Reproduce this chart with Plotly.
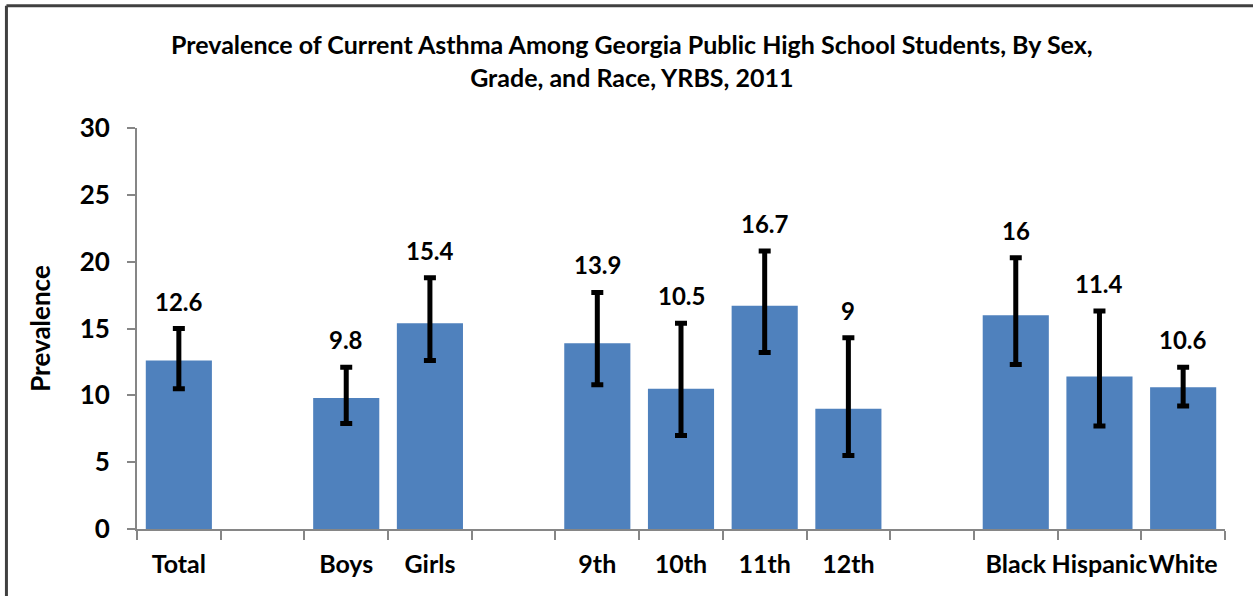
import plotly.graph_objects as go

BAR = "#4f81bd"
AXIS = "#868686"
FONT = "Lato"

# groups of categories, a blank slot sits between each group
GROUPS = [
    ["Total"],
    ["Boys", "Girls"],
    ["9th", "10th", "11th", "12th"],
    ["Black", "Hispanic", "White"],
]
LABELS = ["Total", "Boys", "Girls", "9th", "10th", "11th", "12th", "Black", "Hispanic", "White"]
VALUES = [12.6, 9.8, 15.4, 13.9, 10.5, 16.7, 9.0, 16.0, 11.4, 10.6]
LOWER = [10.5, 7.9, 12.6, 10.8, 7.0, 13.2, 5.5, 12.3, 7.7, 9.2]
UPPER = [15.0, 12.1, 18.8, 17.7, 15.4, 20.8, 14.3, 20.3, 16.3, 12.1]
VALUE_TEXT = ["12.6", "9.8", "15.4", "13.9", "10.5", "16.7", "9", "16", "11.4", "10.6"]
Y_TICKS = [0, 5, 10, 15, 20, 25, 30]

TITLE = ("Prevalence of Current Asthma Among Georgia Public High School Students, By Sex,"
         "<br>Grade, and Race, YRBS, 2011")

# slot positions with one empty slot between groups
positions = []
slot = 0
for i, grp in enumerate(GROUPS):
    if i > 0:
        slot += 1
    for _ in grp:
        positions.append(slot)
        slot += 1
n_slots = slot

fig = go.Figure()

fig.add_trace(go.Bar(
    x=positions, y=VALUES,
    marker=dict(color=BAR, line=dict(width=0)),
    width=0.79,
    error_y=dict(
        type="data", symmetric=False,
        array=[u - v for u, v in zip(UPPER, VALUES)],
        arrayminus=[v - l for v, l in zip(VALUES, LOWER)],
        color="black", thickness=5, width=6,
    ),
    hoverinfo="skip", showlegend=False,
))

for x, u, t in zip(positions, UPPER, VALUE_TEXT):
    fig.add_annotation(x=x, y=u, text=t, showarrow=False, yanchor="bottom", yshift=11,
                       font=dict(family=FONT, size=24, color="black", weight="bold"))

fig.add_annotation(text=TITLE, xref="paper", yref="paper", x=0.455, y=1.168,
                   xanchor="center", yanchor="middle", showarrow=False,
                   font=dict(family=FONT, size=25, color="black", weight="bold"))

fig.update_layout(
    width=1253, height=596,
    margin=dict(l=137, r=28, t=128, b=67),
    plot_bgcolor="white", paper_bgcolor="white",
    font=dict(family=FONT, color="black"),
    xaxis=dict(
        range=[-0.5, n_slots - 0.5], automargin=False,
        tickvals=positions, ticktext=LABELS, ticks="", tickangle=0,
        tickfont=dict(family=FONT, size=25, color="black", weight="bold"),
        showline=True, linecolor=AXIS, linewidth=2, showgrid=False, zeroline=False,
        ticklabelstandoff=12,
        minor=dict(tickvals=[i - 0.5 for i in range(n_slots + 1)], ticks="outside",
                   ticklen=9, tickwidth=2, tickcolor=AXIS, showgrid=False),
    ),
    yaxis=dict(
        range=[0, 30], tickvals=Y_TICKS, ticks="outside", ticklen=8, tickwidth=2,
        tickcolor=AXIS, showline=True, linecolor=AXIS, linewidth=2,
        showgrid=False, zeroline=False, automargin=False,
        ticklabelstandoff=12,
        tickfont=dict(family=FONT, size=26, color="black", weight="bold"),
        title=dict(text="Prevalence", standoff=22,
                   font=dict(family=FONT, size=26, color="black", weight="bold")),
    ),
    shapes=[
        dict(type="line", xref="paper", yref="paper", x0=-0.12, x1=1.1, y0=1.305, y1=1.305,
             line=dict(color="#404040", width=3)),
        dict(type="line", xref="paper", yref="paper", x0=-0.12, x1=-0.12, y0=1.305, y1=-0.2,
             line=dict(color="#404040", width=3)),
    ],
)

# the page body has a default 8px margin; drop it so the figure fills the window
fig.write_html("out.html", config={"displayModeBar": False},
               post_script="document.body.style.margin='0';")
